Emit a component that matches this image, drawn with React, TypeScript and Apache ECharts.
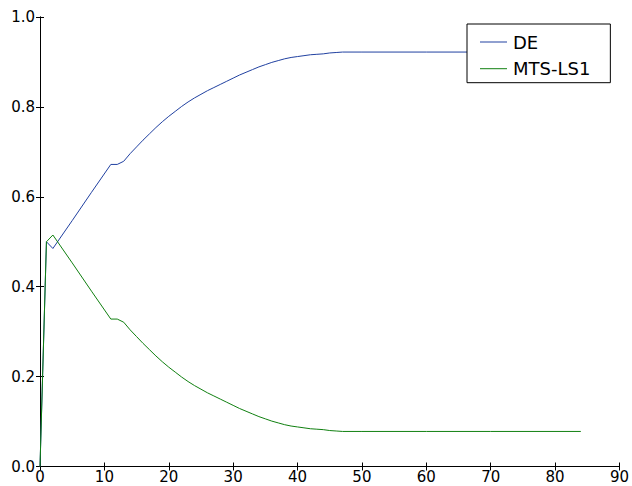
import React, { useEffect, useRef } from "react";
import * as echarts from "echarts";

const xTicks = [0, 10, 20, 30, 40, 50, 60, 70, 80, 90];
const yTicks = [0, 0.2, 0.4, 0.6, 0.8, 1.0];

const evalX = [
  0, 1, 2, 5, 8, 11, 12, 13, 14, 15, 16, 17, 18, 19, 20, 21, 22, 23, 24, 25, 26, 27, 28, 29, 30,
  31, 32, 33, 34, 35, 36, 37, 38, 39, 40, 41, 42, 43, 44, 45, 46, 47, 50, 60, 70, 84,
];

const deY = [
  0, 0.5, 0.485, 0.547, 0.61, 0.672, 0.672, 0.679, 0.696, 0.711, 0.726, 0.74, 0.754, 0.767, 0.779,
  0.79, 0.801, 0.811, 0.82, 0.828, 0.836, 0.843, 0.85, 0.857, 0.864, 0.871, 0.877, 0.883, 0.889,
  0.894, 0.899, 0.903, 0.907, 0.91, 0.912, 0.914, 0.916, 0.917, 0.918, 0.92, 0.921, 0.922, 0.922,
  0.922, 0.922, 0.922,
];

const mtsY = [
  0, 0.5, 0.515, 0.453, 0.39, 0.328, 0.328, 0.321, 0.304, 0.289, 0.274, 0.26, 0.246, 0.233, 0.221,
  0.21, 0.199, 0.189, 0.18, 0.172, 0.164, 0.157, 0.15, 0.143, 0.136, 0.129, 0.123, 0.117, 0.111,
  0.106, 0.101, 0.097, 0.093, 0.09, 0.088, 0.086, 0.084, 0.083, 0.082, 0.08, 0.079, 0.078, 0.078,
  0.078, 0.078, 0.078,
];

const seriesNames = ["DE", "MTS-LS1"];
const seriesColors = ["#2040a0", "#108010"];

export default function App() {
  const ref = useRef<HTMLDivElement>(null);
  useEffect(() => {
    if (!ref.current) return;
    const chart = echarts.init(ref.current, null, { renderer: "svg" });
    const font = "DejaVu Sans";
    const axisLine = { show: true, lineStyle: { color: "#000", width: 1 } };
    const tick = { show: true, inside: true, length: 4, lineStyle: { color: "#000", width: 1 } };
    chart.setOption({
      animation: false,
      backgroundColor: "#fff",
      grid: { left: 40, right: 11, top: 17, bottom: 19.5, containLabel: false },
      legend: {
        orient: "vertical",
        left: 467,
        top: 24,
        padding: [9, 20, 5, 13],
        itemGap: 8.7,
        itemWidth: 27,
        itemHeight: 1,
        borderColor: "#000",
        borderWidth: 1,
        borderRadius: 0,
        backgroundColor: "#fff",
        icon: "rect",
        textStyle: { fontFamily: font, fontSize: 18, color: "#000", lineHeight: 18, padding: [0, 0, 0, 1] },
        data: seriesNames,
      },
      xAxis: [
        {
          type: "value",
          min: xTicks[0],
          max: xTicks[xTicks.length - 1],
          interval: 10,
          axisLine,
          axisTick: tick,
          splitLine: { show: false },
          axisLabel: { fontFamily: font, fontSize: 15, color: "#000", margin: 3 },
        },
        {
          type: "value",
          position: "top",
          min: xTicks[0],
          max: xTicks[xTicks.length - 1],
          interval: 10,
          axisLine,
          axisTick: tick,
          splitLine: { show: false },
          axisLabel: { show: false },
        },
      ],
      yAxis: [
        {
          type: "value",
          min: yTicks[0],
          max: yTicks[yTicks.length - 1],
          interval: 0.2,
          axisLine,
          axisTick: tick,
          splitLine: { show: false },
          axisLabel: {
            fontFamily: font,
            fontSize: 15,
            color: "#000",
            margin: 5,
            formatter: (v: number) => v.toFixed(1),
          },
        },
        {
          type: "value",
          position: "right",
          min: yTicks[0],
          max: yTicks[yTicks.length - 1],
          interval: 0.2,
          axisLine,
          axisTick: tick,
          splitLine: { show: false },
          axisLabel: { show: false },
        },
      ],
      series: [
        {
          name: seriesNames[0],
          type: "line",
          data: evalX.map((x, i) => [x, deY[i]]),
          showSymbol: false,
          smooth: false,
          color: seriesColors[0],
          lineStyle: { width: 1, color: seriesColors[0] },
        },
        {
          name: seriesNames[1],
          type: "line",
          data: evalX.map((x, i) => [x, mtsY[i]]),
          showSymbol: false,
          smooth: false,
          color: seriesColors[1],
          lineStyle: { width: 1, color: seriesColors[1] },
        },
      ],
    });
    return () => chart.dispose();
  }, []);
  return (
    <div
      ref={ref}
      style={{ position: "fixed", left: 0, top: 0, width: 632, height: 486, background: "#fff" }}
    />
  );
}
